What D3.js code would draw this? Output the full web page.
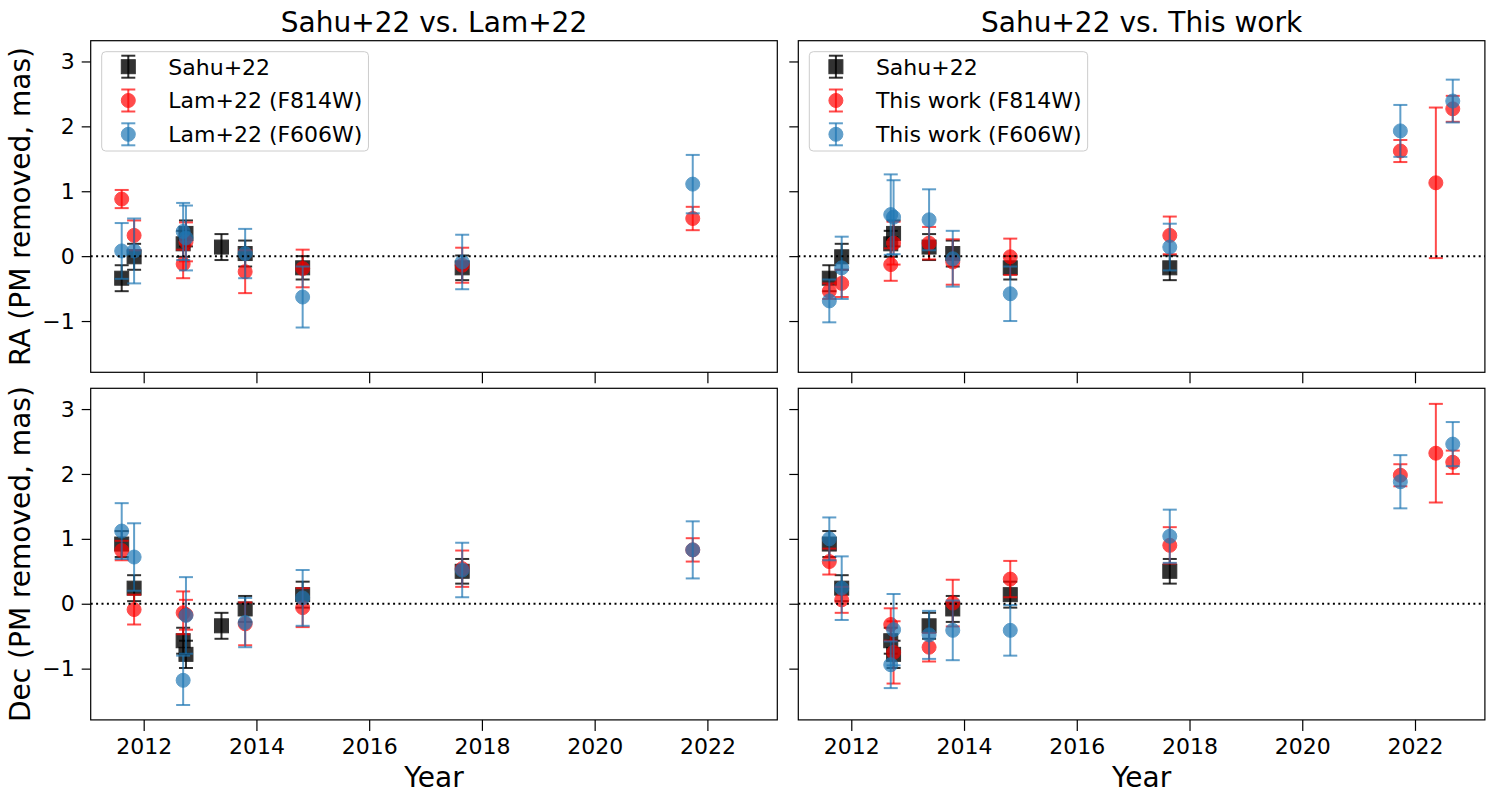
<!DOCTYPE html>
<html>
<head>
<meta charset="utf-8">
<script src="https://cdn.jsdelivr.net/npm/d3@7"></script>
<style>
body { margin: 0; background: #fff; }
svg { font-family: "DejaVu Sans", sans-serif; }
</style>
</head>
<body>
<div id="chart"></div>
<script>
// Sahu+22 epochs and offsets (mas)
const sahuYear = [2011.61, 2011.83, 2012.70, 2012.75, 2013.38, 2013.80, 2014.82, 2017.65];
const sahuRA = [-0.34, -0.01, 0.19, 0.35, 0.14, 0.04, -0.18, -0.18];
const sahuRAErr = [0.20, 0.20, 0.20, 0.20, 0.20, 0.20, 0.18, 0.19];
const sahuDec = [0.92, 0.24, -0.57, -0.78, -0.34, -0.08, 0.14, 0.50];
const sahuDecErr = [0.20, 0.20, 0.20, 0.21, 0.20, 0.20, 0.20, 0.19];

// Lam+22 epochs and offsets
const lamYear = [2011.61, 2011.83, 2012.70, 2012.75, 2013.80, 2014.82, 2017.65, 2021.74];
const lamRA814 = [0.88, 0.32, -0.12, 0.22, -0.24, -0.19, -0.14, 0.58];
const lamRA814Err = [0.14, 0.23, 0.22, 0.30, 0.33, 0.29, 0.27, 0.18];
const lamRA606 = [0.08, 0.08, 0.38, 0.28, 0.04, -0.63, -0.09, 1.11];
const lamRA606Err = [0.43, 0.50, 0.44, 0.50, 0.38, 0.47, 0.42, 0.45];
const lamDec814 = [0.82, -0.09, -0.14, -0.17, -0.31, -0.06, 0.54, 0.83];
const lamDec814Err = [0.15, 0.23, 0.33, 0.23, 0.33, 0.30, 0.28, 0.18];
const lamDec606 = [1.12, 0.72, -1.18, -0.18, -0.29, 0.09, 0.52, 0.83];
const lamDec606Err = [0.43, 0.52, 0.38, 0.59, 0.38, 0.43, 0.42, 0.44];

// this work epochs and offsets
const twYear814 = [2011.61, 2011.83, 2012.70, 2012.75, 2013.38, 2013.80, 2014.82, 2017.65, 2021.74, 2022.37, 2022.67];
const twRA814 = [-0.54, -0.42, -0.13, 0.20, 0.20, -0.09, -0.01, 0.32, 1.62, 1.13, 2.27];
const twRA814Err = [0.12, 0.21, 0.25, 0.33, 0.25, 0.35, 0.28, 0.29, 0.17, 1.16, 0.20];
const twDec814 = [0.65, 0.06, -0.32, -0.75, -0.67, 0.01, 0.38, 0.90, 1.98, 2.32, 2.18];
const twDec814Err = [0.20, 0.20, 0.25, 0.48, 0.22, 0.36, 0.28, 0.28, 0.17, 0.76, 0.18];
const twYear606 = [2011.61, 2011.83, 2012.70, 2012.75, 2013.38, 2013.80, 2014.82, 2017.65, 2021.74, 2022.67];
const twRA606 = [-0.69, -0.18, 0.64, 0.60, 0.56, -0.04, -0.58, 0.14, 1.93, 2.39];
const twRA606Err = [0.33, 0.48, 0.62, 0.57, 0.47, 0.43, 0.42, 0.36, 0.40, 0.33];
const twDec606 = [1.00, 0.24, -0.94, -0.40, -0.48, -0.41, -0.41, 1.04, 1.88, 2.46];
const twDec606Err = [0.33, 0.49, 0.36, 0.55, 0.37, 0.46, 0.39, 0.41, 0.41, 0.34];

// axis ticks and labels
const xTicks = [2012, 2014, 2016, 2018, 2020, 2022];
const yTicks = [-1, 0, 1, 2, 3];
const titles = ["Sahu+22 vs. Lam+22", "Sahu+22 vs. This work"];
const yLabels = ["RA (PM removed, mas)", "Dec (PM removed, mas)"];
const legendLeft = ["Sahu+22", "Lam+22 (F814W)", "Lam+22 (F606W)"];
const legendRight = ["Sahu+22", "This work (F814W)", "This work (F606W)"];

// layout
const width = 1500;
const height = 800;
const panelW = 686.6;
const panelH = 331.6;
const colX = [90.7, 798.3];
const rowY = [40.7, 388.3];
const xDomain = [2011.06, 2023.24];
const yDomain = [-1.79, 3.32];

const black = "#000000", red = "#ff0000", blue = "#1f77b4";

var svg = d3.select("#chart")
    .append("svg")
    .attr("width", width)
    .attr("height", height);

function errorbar(g, x, y, xs, ys, errs, color, alpha, marker) {
    var pts = xs.map((d, i) => ({ x: d, y: ys[i], e: errs[i] }));
    var grp = g.append("g");
    // vertical bars
    grp.selectAll(".bar").data(pts).enter().append("line")
        .attr("x1", d => x(d.x)).attr("x2", d => x(d.x))
        .attr("y1", d => y(d.y - d.e)).attr("y2", d => y(d.y + d.e))
        .attr("stroke", color).attr("stroke-width", 2).attr("opacity", alpha);
    // caps
    [-1, 1].forEach(function (s) {
        grp.selectAll(".cap" + s).data(pts).enter().append("line")
            .attr("x1", d => x(d.x) - 7).attr("x2", d => x(d.x) + 7)
            .attr("y1", d => y(d.y + s * d.e)).attr("y2", d => y(d.y + s * d.e))
            .attr("stroke", color).attr("stroke-width", 2).attr("opacity", alpha);
    });
    // markers
    if (marker === "s") {
        grp.selectAll(".mk").data(pts).enter().append("rect")
            .attr("x", d => x(d.x) - 7).attr("y", d => y(d.y) - 7)
            .attr("width", 14).attr("height", 14)
            .attr("fill", color).attr("stroke", color).attr("stroke-width", 1)
            .attr("opacity", alpha);
    } else {
        grp.selectAll(".mk").data(pts).enter().append("circle")
            .attr("cx", d => x(d.x)).attr("cy", d => y(d.y)).attr("r", 7)
            .attr("fill", color).attr("stroke", color).attr("stroke-width", 1)
            .attr("opacity", alpha);
    }
}

function legend(g, labels) {
    var lg = g.append("g").attr("transform", "translate(11,11)");
    var box = lg.append("rect")
        .attr("rx", 4).attr("ry", 4)
        .attr("height", 99.3)
        .attr("fill", "#fff").attr("fill-opacity", 0.8)
        .attr("stroke", "#cccccc").attr("stroke-width", 1);
    var styles = [[black, 0.8, "s"], [red, 0.7, "o"], [blue, 0.7, "o"]];
    var maxLen = 0;
    labels.forEach(function (lab, i) {
        var cy = 15 + i * 33.8;
        var st = styles[i];
        var sx = d3.scaleLinear().domain([0, 1]).range([26.6, 27.6]);
        var sy = d3.scaleLinear().domain([0, 1]).range([cy, cy - 1]);
        errorbar(lg, sx, sy, [0], [0], [11], st[0], st[1], st[2]);
        var t = lg.append("text")
            .attr("x", 66.6).attr("y", cy + 8)
            .attr("font-size", 22)
            .text(lab);
        maxLen = Math.max(maxLen, t.node().getComputedTextLength());
    });
    box.attr("width", 66.6 + maxLen + 6);
}

function panel(col, row, series, legendLabels) {
    var g = svg.append("g")
        .attr("transform", "translate(" + colX[col] + "," + rowY[row] + ")");
    var x = d3.scaleLinear().domain(xDomain).range([0, panelW]);
    var y = d3.scaleLinear().domain(yDomain).range([panelH, 0]);

    series.forEach(s => errorbar(g, x, y, s[0], s[1], s[2], s[3], s[4], s[5]));

    // zero line
    g.append("line")
        .attr("x1", 0).attr("x2", panelW)
        .attr("y1", y(0)).attr("y2", y(0))
        .attr("stroke", "#000").attr("stroke-width", 2)
        .attr("stroke-dasharray", "2,3.4");

    // axes
    var xAxis = d3.axisBottom(x).tickValues(xTicks).tickSize(11).tickSizeOuter(0).tickPadding(7)
        .tickFormat(row === 1 ? d3.format("d") : () => "");
    var yAxis = d3.axisLeft(y).tickValues(yTicks).tickSize(9).tickSizeOuter(0).tickPadding(7)
        .tickFormat(col === 0 ? d3.format("d") : () => "");
    var ax = g.append("g").attr("transform", "translate(0," + panelH + ")").call(xAxis);
    var ay = g.append("g").call(yAxis);
    [ax, ay].forEach(function (a) {
        a.select(".domain").remove();
        a.selectAll(".tick line").attr("stroke-width", 1.2);
        a.selectAll(".tick text").attr("font-size", 22).attr("font-family", "DejaVu Sans");
    });

    // spines
    g.append("rect")
        .attr("width", panelW).attr("height", panelH)
        .attr("fill", "none").attr("stroke", "#000").attr("stroke-width", 1.2);

    if (legendLabels) legend(g, legendLabels);

    if (row === 0) {
        svg.append("text")
            .attr("x", colX[col] + panelW / 2).attr("y", 32)
            .attr("text-anchor", "middle").attr("font-size", 28)
            .text(titles[col]);
    } else {
        svg.append("text")
            .attr("x", colX[col] + panelW / 2).attr("y", 787)
            .attr("text-anchor", "middle").attr("font-size", 28)
            .text("Year");
    }
    if (col === 0) {
        svg.append("text")
            .attr("transform", "translate(30," + (rowY[row] + panelH / 2) + ") rotate(-90)")
            .attr("text-anchor", "middle").attr("font-size", 28)
            .text(yLabels[row]);
    }
}

panel(0, 0, [
    [sahuYear, sahuRA, sahuRAErr, black, 0.8, "s"],
    [lamYear, lamRA814, lamRA814Err, red, 0.7, "o"],
    [lamYear, lamRA606, lamRA606Err, blue, 0.7, "o"]
], legendLeft);

panel(1, 0, [
    [sahuYear, sahuRA, sahuRAErr, black, 0.8, "s"],
    [twYear814, twRA814, twRA814Err, red, 0.7, "o"],
    [twYear606, twRA606, twRA606Err, blue, 0.7, "o"]
], legendRight);

panel(0, 1, [
    [sahuYear, sahuDec, sahuDecErr, black, 0.8, "s"],
    [lamYear, lamDec814, lamDec814Err, red, 0.7, "o"],
    [lamYear, lamDec606, lamDec606Err, blue, 0.7, "o"]
], null);

panel(1, 1, [
    [sahuYear, sahuDec, sahuDecErr, black, 0.8, "s"],
    [twYear814, twDec814, twDec814Err, red, 0.7, "o"],
    [twYear606, twDec606, twDec606Err, blue, 0.7, "o"]
], null);
</script>
</body>
</html>
